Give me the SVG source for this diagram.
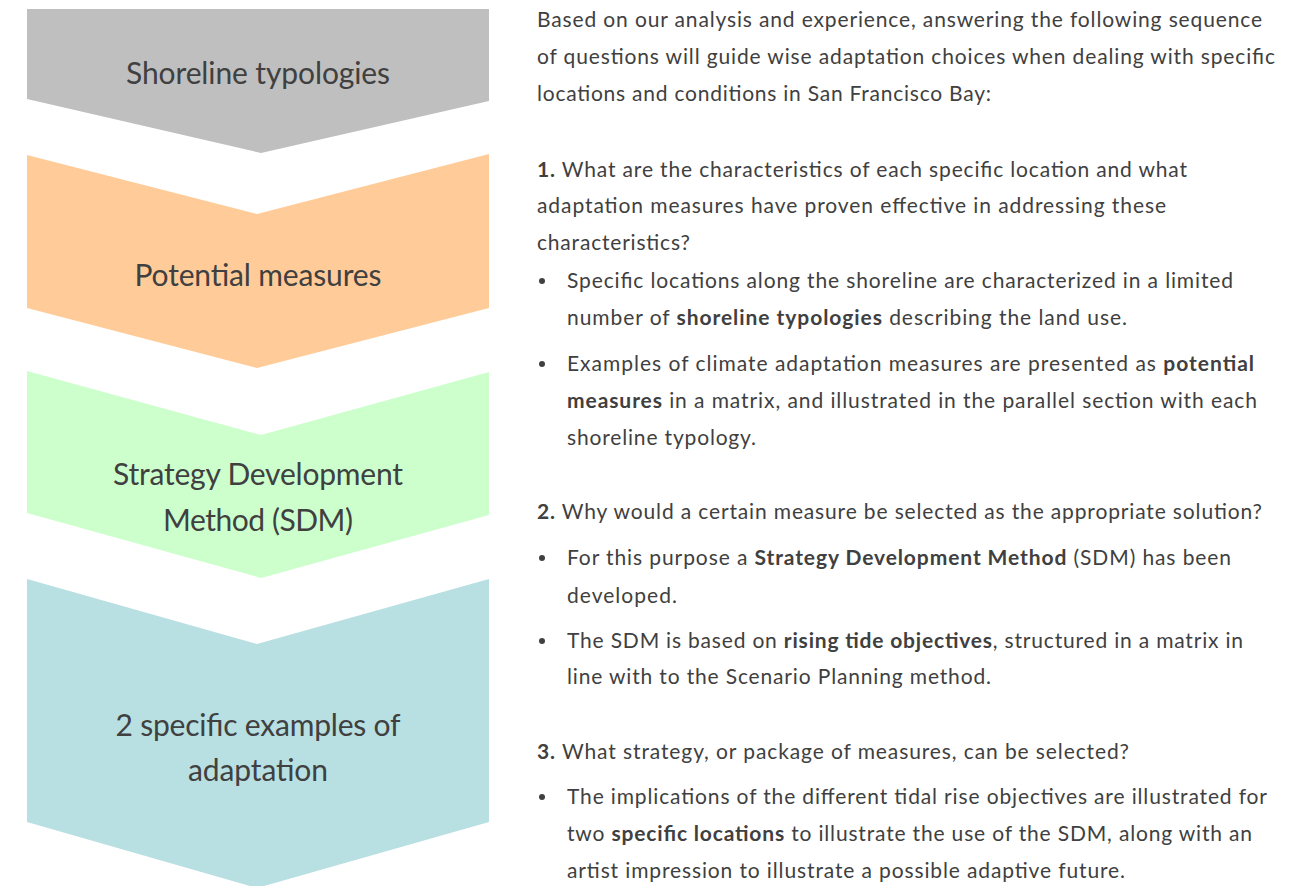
<svg xmlns="http://www.w3.org/2000/svg" width="1303" height="886" viewBox="0 0 1303 886">
  <style>
    .label { font-family: Lato, "Liberation Sans", sans-serif; font-size: 30px; fill: #404040; text-anchor: middle; }
    .body { font-family: Lato, "Liberation Sans", sans-serif; font-size: 21px; fill: #404040; }
    .b { font-weight: bold; }
    .bullet { fill: #404040; }
  </style>
  <rect width="1303" height="886" fill="#ffffff"/>

  <!-- Chevron steps -->
  <g id="step-shoreline-typologies">
    <path d="M27,9 L489,9 L489,101 L261,153 L27,99 Z" fill="#BFBFBF"/>
    <text class="label" x="258" y="84" textLength="264">Shoreline typologies</text>
  </g>
  <g id="step-potential-measures">
    <path d="M27,155 L257,214 L489,154 L489,308 L257,368 L27,308 Z" fill="#FFCC99"/>
    <text class="label" x="258" y="286" textLength="247">Potential measures</text>
  </g>
  <g id="step-sdm">
    <path d="M27,371 L261,435 L489,372 L489,515 L261,578 L27,513 Z" fill="#CCFFCC"/>
    <text class="label" x="258" y="485" textLength="290">Strategy Development</text>
    <text class="label" x="258" y="531" textLength="190">Method (SDM)</text>
  </g>
  <g id="step-examples">
    <path d="M27,579 L257,644 L489,579 L489,822 L257,888 L27,822 Z" fill="#B8DFE2"/>
    <text class="label" x="258" y="736" textLength="285">2 specific examples of</text>
    <text class="label" x="258" y="781" textLength="140">adaptation</text>
  </g>

  <!-- Connectors: none, the steps are stacked chevrons -->
  <g id="connectors"></g>

  <!-- Explanatory text -->
  <g id="intro">
    <text class="body" x="537" y="27" textLength="725">Based on our analysis and experience, answering the following sequence</text>
    <text class="body" x="537" y="64" textLength="738">of questions will guide wise adaptation choices when dealing with specific</text>
    <text class="body" x="537" y="101" textLength="454">locations and conditions in San Francisco Bay:</text>
  </g>

  <g id="question-1">
    <text class="body" x="537" y="177" textLength="650"><tspan class="b">1.</tspan> What are the characteristics of each specific location and what</text>
    <text class="body" x="537" y="213" textLength="629">adaptation measures have proven effective in addressing these</text>
    <text class="body" x="537" y="250" textLength="153">characteristics?</text>
    <circle class="bullet" cx="542" cy="281" r="3"/>
    <text class="body" x="567" y="288" textLength="666">Specific locations along the shoreline are characterized in a limited</text>
    <text class="body" x="567" y="325" textLength="560">number of <tspan class="b">shoreline typologies</tspan> describing the land use.</text>
    <circle class="bullet" cx="542" cy="364" r="3"/>
    <text class="body" x="567" y="371" textLength="687">Examples of climate adaptation measures are presented as <tspan class="b">potential</tspan></text>
    <text class="body" x="567" y="408" textLength="690"><tspan class="b">measures</tspan> in a matrix, and illustrated in the parallel section with each</text>
    <text class="body" x="567" y="445" textLength="189">shoreline typology.</text>
  </g>

  <g id="question-2">
    <text class="body" x="537" y="519" textLength="725"><tspan class="b">2.</tspan> Why would a certain measure be selected as the appropriate solution?</text>
    <circle class="bullet" cx="542" cy="558" r="3"/>
    <text class="body" x="567" y="565" textLength="664">For this purpose a <tspan class="b">Strategy Development Method</tspan> (SDM) has been</text>
    <text class="body" x="567" y="603" textLength="110">developed.</text>
    <circle class="bullet" cx="542" cy="641" r="3"/>
    <text class="body" x="567" y="648" textLength="676">The SDM is based on <tspan class="b">rising tide objectives</tspan>, structured in a matrix in</text>
    <text class="body" x="567" y="684" textLength="424">line with to the Scenario Planning method.</text>
  </g>

  <g id="question-3">
    <text class="body" x="537" y="759" textLength="592"><tspan class="b">3.</tspan> What strategy, or package of measures, can be selected?</text>
    <circle class="bullet" cx="542" cy="797" r="3"/>
    <text class="body" x="567" y="804" textLength="700">The implications of the different tidal rise objectives are illustrated for</text>
    <text class="body" x="567" y="841" textLength="685">two <tspan class="b">specific locations</tspan> to illustrate the use of the SDM, along with an</text>
    <text class="body" x="567" y="878" textLength="558">artist impression to illustrate a possible adaptive future.</text>
  </g>
</svg>
